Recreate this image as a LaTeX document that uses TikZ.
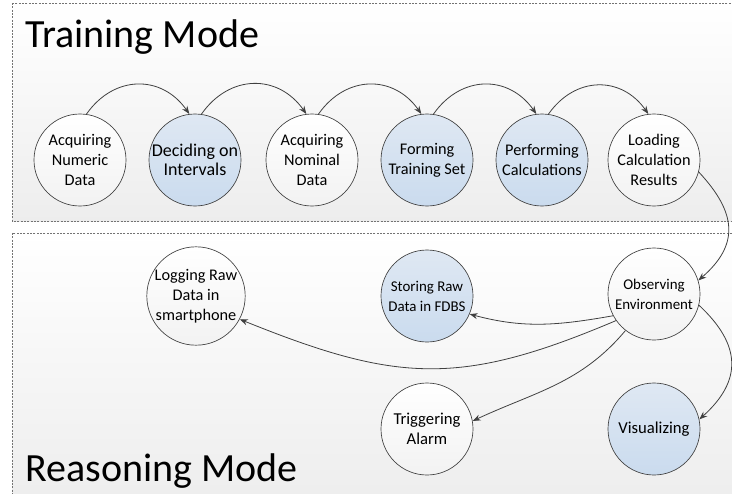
\documentclass[tikz,border=0pt]{standalone}
\usepackage{fontspec}
\setmainfont{Carlito}
\usetikzlibrary{arrows.meta}

\definecolor{fillblue}{HTML}{DFE8F3}
\definecolor{fillblueb}{HTML}{CADBEE}
\definecolor{lineg}{HTML}{404040}

\begin{document}
\begin{tikzpicture}[x=0.75pt, y=0.75pt, >={Stealth[length=6pt,width=4.5pt]},
  every node/.style={circle, draw=lineg, line width=0.5pt, minimum size=69pt, inner sep=0pt, align=center, font=\fontsize{12.2}{15}\selectfont},
  act/.style={top color=white, bottom color=black!5},
  actb/.style={top color=fillblue, bottom color=fillblueb},
  title/.style={rectangle, draw=none, minimum size=0pt, anchor=base west, font=\fontsize{30}{36}\selectfont},
  panel/.style={draw=black!55, dash pattern=on 1.5pt off 1pt, line width=0.4pt, top color=white, bottom color=black!7},
  flow/.style={->, draw=lineg, line width=0.6pt}]

            \useasboundingbox (0,0) rectangle (732,-493);

            % Panels
            \path[panel] (12,-3) rectangle (745,-221);
            \path[panel] (12,-233) rectangle (745,-505);
            \node[title] (trainlbl) at (25,-47) {Training Mode};
            \node[title] (reasonlbl) at (25,-481) {Reasoning Mode};

            % Training mode
            \node[act] (numeric) at (80,-160) {Acquiring\\Numeric\\Data};
            \node[actb, font=\fontsize{13.5}{14}\selectfont] (intervals) at (195,-160) {Deciding on\\Intervals};
            \node[act] (nominal) at (312,-160) {Acquiring\\Nominal\\Data};
            \node[actb] (trainset) at (427,-160) {Forming\\Training Set};
            \node[actb] (calc) at (542,-160) {Performing\\Calculations};
            \node[act] (loading) at (654,-160) {Loading\\Calculation\\Results};

            % Reasoning mode
            \node[act] (logging) at (196,-296) {Logging Raw\\Data in\\smartphone};
            \node[actb, font=\fontsize{11.2}{15}\selectfont] (storing) at (427,-296) {Storing Raw\\Data in FDBS};
            \node[act, font=\fontsize{11.2}{15}\selectfont] (observing) at (654,-294) {Observing\\Environment};
            \node[act, font=\fontsize{12.5}{15}\selectfont] (alarm) at (427,-429) {Triggering\\Alarm};
            \node[actb, font=\fontsize{12.5}{15}\selectfont] (visual) at (654,-429) {Visualizing};

            % Training flow
            \draw[flow] (numeric.82) to[out=55, in=125, looseness=1.2] (intervals.97);
            \draw[flow] (intervals.82) to[out=55, in=125, looseness=1.2] (nominal.97);
            \draw[flow] (nominal.82) to[out=55, in=125, looseness=1.2] (trainset.97);
            \draw[flow] (trainset.82) to[out=55, in=125, looseness=1.2] (calc.97);
            \draw[flow] (calc.82) to[out=55, in=125, looseness=1.2] (loading.97);

            % Reasoning flow
            \draw[flow] (loading.-15) to[out=-47, in=41, looseness=1.3] (observing.17);
            \draw[flow] (observing.208) to[out=190, in=-15] (storing.-23);
            \draw[flow] (observing.215) to[out=203, in=-22, looseness=1.15] (logging.-28);
            \draw[flow] (observing.232) to[out=230, in=25] (alarm.10);
            \draw[flow] (observing.-14) to[out=-43, in=42, looseness=1.3] (visual.12);
          \end{tikzpicture}
\end{document}
